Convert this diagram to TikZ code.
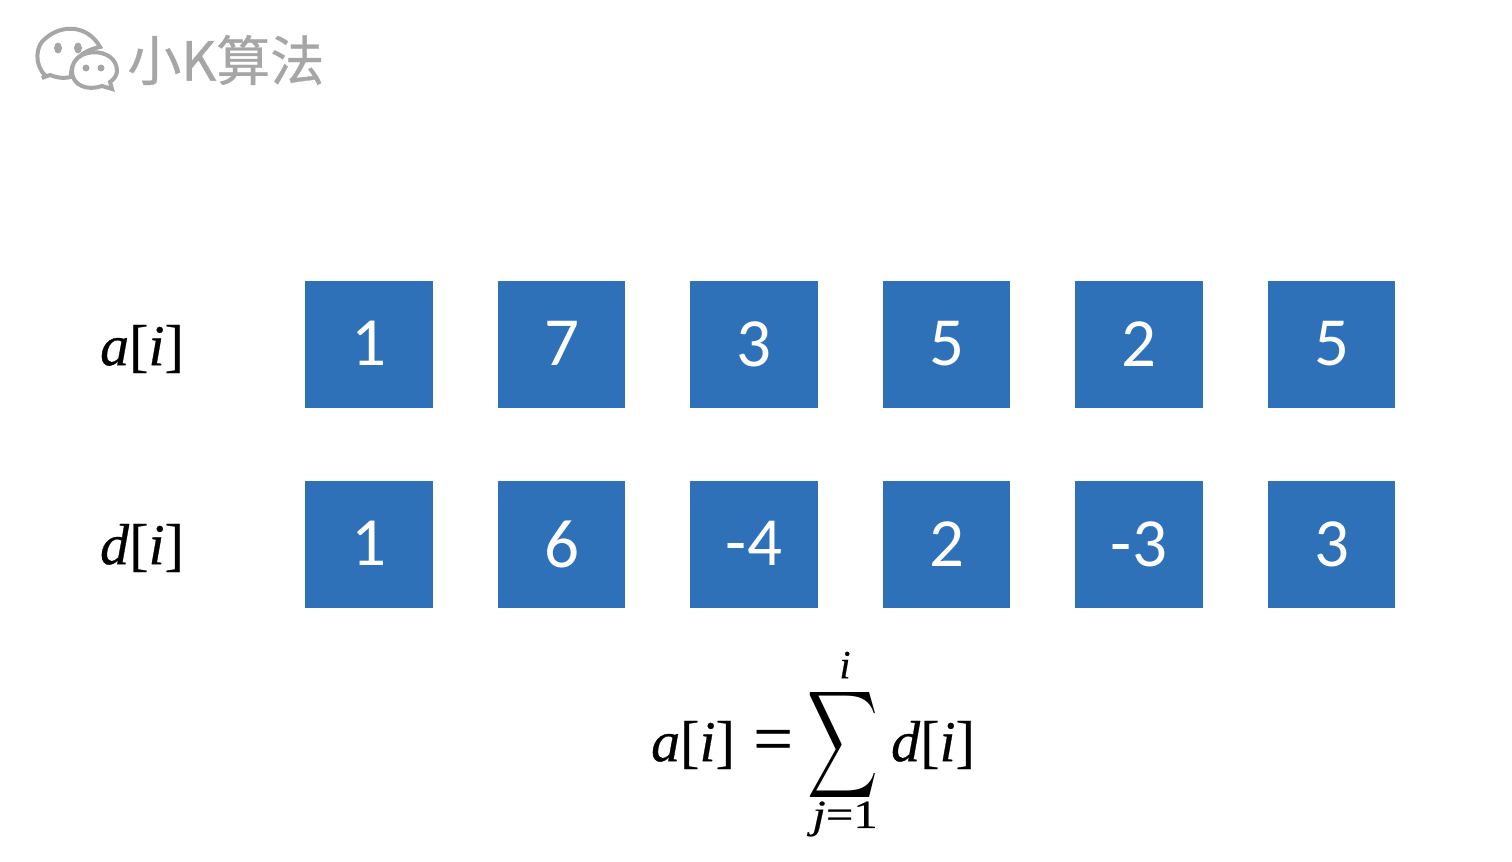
\documentclass[tikz,border=0pt]{standalone}
\usepackage{fontspec}
\usetikzlibrary{shapes.geometric}
\setmainfont{Carlito}
\newfontfamily\cjk[FakeBold=0.6]{Noto Sans CJK SC}
\newfontfamily\formula[FakeBold=0.5]{Liberation Serif}
\newcommand{\vr}[1]{\textit{#1}}
\definecolor{boxblue}{HTML}{2E71B9}
\definecolor{logogray}{HTML}{A6A6A6}
\tikzset{
  cell/.style={fill=boxblue,text=white,minimum size=63.7pt,inner sep=0pt,font=\fontsize{34.5}{34.5}\selectfont},
  mathlabel/.style={inner sep=0pt,font=\fontsize{29}{29}\formula},
  limit/.style={inner sep=0pt,font=\fontsize{20}{20}\formula},
  bubble/.style={draw=logogray,fill=white,line width=2pt},
  eye/.style={fill=logogray,draw=none,inner sep=0pt}
}
\begin{document}
\begin{tikzpicture}[x=0.5pt,y=-0.5pt]
\useasboundingbox (0,0) rectangle (1512,862);
% logo
\draw[bubble] (46,76) .. controls (34,66) and (35,45) .. (46,38) .. controls (62,24) and (88,25) .. (100,47) .. controls (84,50) and (70,60) .. (71,77) .. controls (62,79) and (55,77) .. (50,75) -- (42,78) -- cycle;
\draw[bubble] (72,71) .. controls (72,46) and (117,46) .. (117,71) .. controls (117,76) and (113,80) .. (110,82) -- (112,89) -- (102,86) .. controls (88,91) and (72,86) .. (72,71) -- cycle;
\node[eye,ellipse,minimum width=4pt,minimum height=5.5pt] (eyeA) at (58,48) {};
\node[eye,ellipse,minimum width=4pt,minimum height=5.5pt] (eyeB) at (78,48) {};
\node[eye,circle,minimum size=3.5pt] (eyeC) at (86,68) {};
\node[eye,circle,minimum size=3.5pt] (eyeD) at (101,68) {};
\node[inner sep=0pt,text=logogray,anchor=west,font=\fontsize{27}{27}\selectfont] (logo) at (127,60) {\cjk 小K算法};
% cells
\foreach \v [count=\i] in {1,7,3,5,2,5}
  \node[cell] (a\i) at ({369+192.5*(\i-1)},344.5) {\raisebox{0.8pt}{\v}};
\foreach \v [count=\i] in {1,6,-4,2,-3,3}
  \node[cell] (d\i) at ({369+192.5*(\i-1)},544.5) {\raisebox{0.8pt}{\v}};
% labels
\node[mathlabel] (alabel) at (142,349) {\vr{a}[\vr{i}]};
\node[mathlabel] (dlabel) at (142,548) {\vr{d}[\vr{i}]};
% formula
\node[mathlabel] (lhs) at (693,745) {\vr{a}[\vr{i}]};
\node[mathlabel,font=\fontsize{35}{35}\formula] (eq) at (773,746) {=};
\node[inner sep=0pt,xscale=2.45,yscale=3.75,execute at begin node=\boldmath] (sigma) at (843,744.5) {$\displaystyle\sum$};
\node[limit] (top) at (845,665) {\vr{i}};
\node[limit,xscale=1.22] (bottom) at (845,819) {\vr{j}=1};
\node[mathlabel] (rhs) at (933,745) {\vr{d}[\vr{i}]};
\end{tikzpicture}
\end{document}
